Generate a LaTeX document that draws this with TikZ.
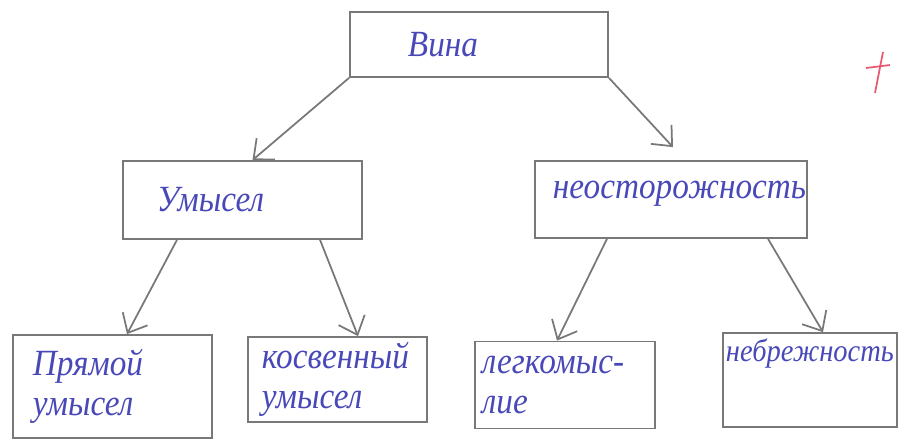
\documentclass[tikz,border=0pt]{standalone}
\usepackage{fontspec}
\setmainfont{Liberation Serif}[FakeStretch=0.9]
\usepackage{tikz}
\usetikzlibrary{arrows.meta}
\definecolor{pencil}{RGB}{120,120,120}
\definecolor{ink}{RGB}{72,72,185}
\definecolor{redpen}{RGB}{232,90,112}
\tikzset{>={Straight Barb[length=1.6mm,width=2.8mm]}}
\newcommand{\hand}{\fontsize{10.5}{11.5}\selectfont\itshape}

\begin{document}
\begin{tikzpicture}[
    x = 0.01cm, y = -0.01cm,
    box/.style = {draw = pencil, line width = 0.5pt, align = left, font = \hand, text = ink, inner ysep = 0pt},
    arr/.style = {->, draw = pencil, line width = 0.5pt},
]
\path[use as bounding box, clip] (0,0) rectangle (899,441);

% top
\node[box, minimum height = 0.65cm, inner xsep = 0.58cm, text width = 1.42cm] (vina) at (479,44.5) {Вина};

% second row
\node[box, minimum height = 0.78cm, inner xsep = 0.34cm, text width = 1.71cm] (umysel) at (242.5,200) {Умысел};
\node[box, minimum height = 0.77cm, inner xsep = 0.18cm, text width = 2.36cm, text depth = 0.2cm] (neost) at (671,199.5) {неосторожность};

% third row
\node[box, minimum height = 1.03cm, inner xsep = 0.2cm, text width = 1.59cm] (pryamoy) at (112.5,386.5) {Прямой\\умысел};
\node[box, minimum height = 0.85cm, inner xsep = 0.14cm, text width = 1.51cm] (kosv) at (337.5,379.5) {косвенный\\умысел};
\node[box, minimum height = 0.87cm, inner xsep = 0.07cm, text width = 1.66cm] (legk) at (565,385) {легкомыс-\\лие};
\node[box, minimum height = 0.94cm, inner xsep = 0.03cm, text width = 1.68cm, text depth = 0.6cm,
      font = \fontsize{9}{11}\selectfont\itshape] (nebr) at (810,380) {небрежность};

% arrows
\draw[arr] (vina.south west) -- ([xshift = 0.1cm]umysel.north);
\draw[arr] (vina.south east) -- ([shift = {(0.02cm,0.13cm)}]neost.north);
\draw[arr] ([xshift = -0.655cm]umysel.south) -- ([xshift = 0.145cm]pryamoy.north);
\draw[arr] ([xshift = 0.775cm]umysel.south) -- ([xshift = 0.205cm]kosv.north);
\draw[arr] ([xshift = -0.64cm]neost.south) -- ([xshift = -0.08cm]legk.north);
\draw[arr] ([xshift = 0.97cm]neost.south) -- ([xshift = 0.13cm]nebr.north);

% red mark
\draw[redpen, line width = 0.5pt] (883,52) -- (875,93);
\draw[redpen, line width = 0.5pt] (866,68) -- (890,65);

\end{tikzpicture}
\end{document}
